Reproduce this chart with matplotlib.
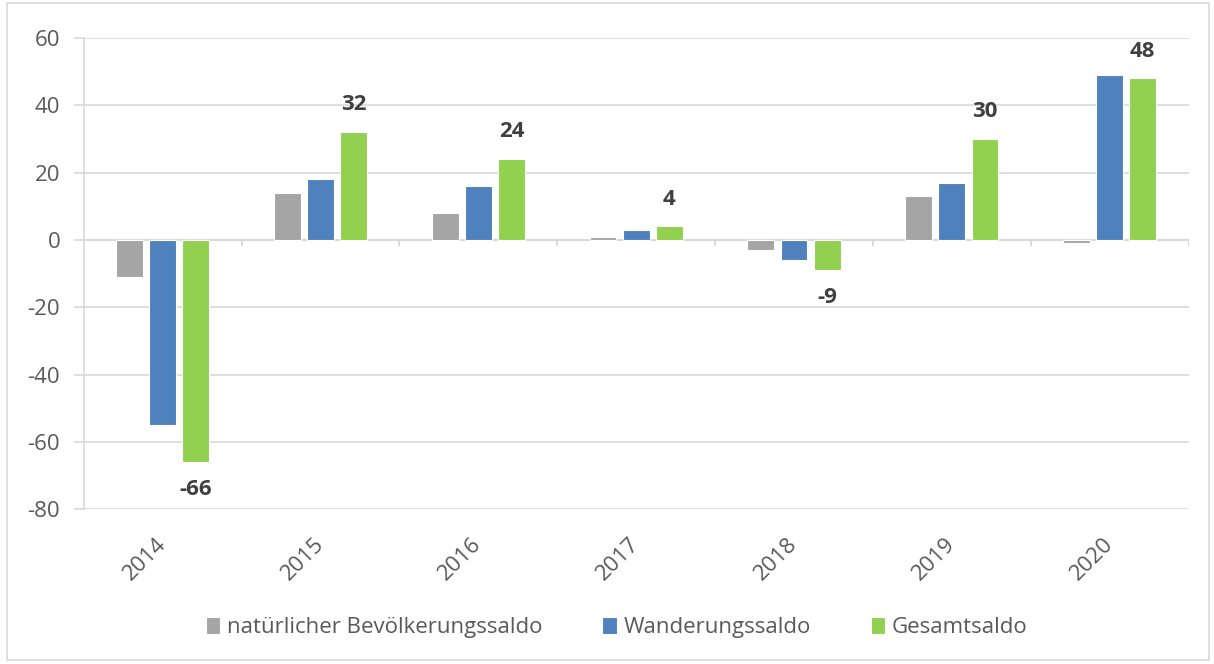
import numpy as np
import matplotlib.pyplot as plt
from matplotlib.patches import Rectangle

plt.rcParams['font.family'] = ['Open Sans', 'DejaVu Sans']
plt.rcParams['axes.unicode_minus'] = False

jahre = ['2014', '2015', '2016', '2017', '2018', '2019', '2020']
natuerlich = [-11, 14, 8, 1, -3, 13, -1]
wanderung = [-55, 18, 16, 3, -6, 17, 49]
gesamt = [-66, 32, 24, 4, -9, 30, 48]

farben = ['#a5a5a5', '#4f81bd', '#92d050']
namen = ['natürlicher Bevölkerungssaldo', 'Wanderungssaldo', 'Gesamtsaldo']
textfarbe = '#595959'

fig = plt.figure(figsize=(12.14, 6.64), dpi=100)
ax = fig.add_axes([0.069, 0.233, 0.91, 0.71])

x = np.arange(len(jahre))
breite = 0.17
abstand = 0.21
for k, (werte, farbe, name) in enumerate(zip([natuerlich, wanderung, gesamt], farben, namen)):
    ax.bar(x + (k - 1) * abstand, werte, breite, color=farbe, label=name,
           edgecolor='white', linewidth=0.8, zorder=3)

# Datenbeschriftung nur für Gesamtsaldo
for xi, v in zip(x, gesamt):
    if v >= 0:
        ax.annotate(str(v), (xi + abstand, v), xytext=(0, 12), textcoords='offset points',
                    ha='center', va='bottom', fontsize=16, fontweight='bold', color='#404040')
    else:
        ax.annotate(str(v), (xi + abstand, v), xytext=(0, -12), textcoords='offset points',
                    ha='center', va='top', fontsize=16, fontweight='bold', color='#404040')

ax.set_ylim(-80, 60)
ax.set_xlim(-0.5, len(jahre) - 0.5)
ax.set_yticks(np.arange(-80, 61, 20))
ax.yaxis.grid(True, color='#d9d9d9', linewidth=1.2, zorder=0)
ax.set_axisbelow(True)

# Nulllinie mit Trennstrichen
ax.axhline(0, color='#d9d9d9', linewidth=1.5, zorder=2)
ax.vlines(np.arange(len(jahre) + 1) - 0.5, -1.8, 0, color='#d9d9d9', linewidth=1.5, zorder=2)

ax.set_xticks(x)
ax.set_xticklabels(jahre, rotation=45, fontsize=16, color=textfarbe,
                   ha='right', va='center', rotation_mode='anchor')
ax.tick_params(axis='x', length=0, pad=23)
ax.tick_params(axis='y', labelsize=16, labelcolor=textfarbe, color='#d9d9d9', length=7, width=1.2, pad=10)

for s in ['top', 'right', 'bottom']:
    ax.spines[s].set_visible(False)
ax.spines['left'].set_color('#d9d9d9')
ax.spines['left'].set_linewidth(1.2)

ax.legend(loc='center', bbox_to_anchor=(0.508, 0.055), bbox_transform=fig.transFigure,
          ncol=3, frameon=False, fontsize=16, handlelength=0.65, handleheight=0.85,
          handletextpad=0.3, columnspacing=2.7, labelcolor=textfarbe)

fig.patches.append(Rectangle((0.006, 0.006), 0.99, 0.99, transform=fig.transFigure,
                             fill=False, edgecolor='#d9d9d9', linewidth=1.2))

fig.savefig('out.png', dpi=100)
